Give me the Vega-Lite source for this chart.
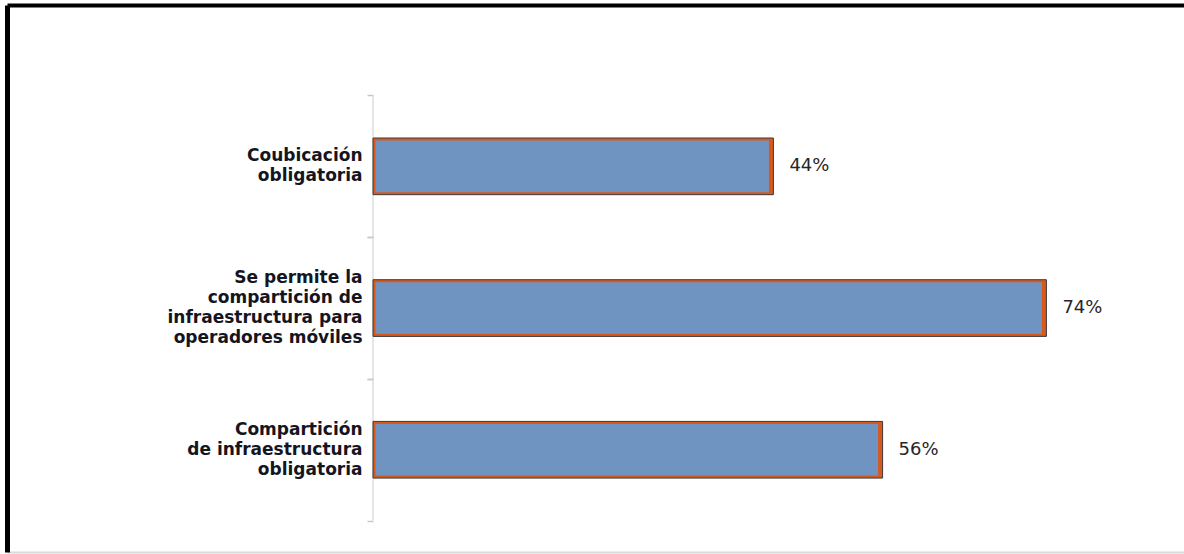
{
  "$schema": "https://vega.github.io/schema/vega-lite/v6.json",
  "width": 1177,
  "height": 547,
  "autosize": {"type": "none"},
  "padding": {"left": 7, "top": 5, "right": 0, "bottom": 2},
  "background": "white",
  "config": {"view": {"stroke": null}},
  "data": {
    "values": [
      {"cat": "Coubicación\nobligatoria", "value": 0.44},
      {"cat": "Se permite la\ncompartición de\ninfraestructura para\noperadores móviles", "value": 0.74},
      {"cat": "Compartición\nde infraestructura\nobligatoria", "value": 0.56}
    ]
  },
  "resolve": {"axis": {"x": "independent", "y": "independent"}},
  "layer": [
    {
      "mark": {"type": "tick", "orient": "vertical", "size": 141.7, "thickness": 1.5, "color": "#D0D0D0"},
      "encoding": {
        "x": {"datum": 0, "type": "quantitative", "axis": null},
        "y": {
          "field": "cat", "type": "nominal", "sort": null,
          "axis": {"orient": "left", "offset": -366, "title": null, "domain": false, "labels": false, "grid": false,
                   "ticks": true, "tickOffset": 70.85, "tickColor": "#C8C8C8", "tickSize": 6, "tickWidth": 1.5}
        }
      }
    },
    {
      "mark": {"type": "bar", "fill": "#D9581C", "stroke": "#3A3A3A", "strokeWidth": 1},
      "encoding": {
        "y": {
          "field": "cat", "type": "nominal", "sort": null,
          "scale": {"paddingInner": 0.6, "paddingOuter": 0.7301, "align": 0.6428, "round": false},
          "axis": {"orient": "left", "title": null, "labels": false, "ticks": false, "domain": true, "domainColor": "#000000", "domainWidth": 5, "grid": false}
        },
        "x": {
          "field": "value", "type": "quantitative",
          "scale": {"domain": [-0.4022, 0.8912], "nice": false, "zero": false},
          "axis": {"orient": "top", "title": null, "labels": false, "ticks": false, "grid": false, "domain": true, "domainColor": "#000000", "domainWidth": 4}
        },
        "x2": {"datum": 0}
      }
    },
    {
      "mark": {"type": "bar", "fill": "#7094C2", "stroke": null, "height": {"band": 0.91}, "xOffset": -4.5, "x2Offset": 2.5},
      "encoding": {
        "y": {
          "field": "cat", "type": "nominal", "sort": null,
          "axis": {
            "orient": "left", "offset": -366, "title": null, "domain": false, "ticks": false,
            "labelPadding": 11, "labelFont": "DejaVu Sans", "labelFontWeight": "bold", "labelFontSize": 17,
            "labelColor": "#15151f", "labelLineHeight": 20, "labelAlign": "right", "labelBaseline": "middle",
            "labelExpr": "split(datum.label, '\\n')", "grid": false, "labelLimit": 400,
            "labelOffset": {
              "condition": [
                {"test": "length(split(datum.value, '\\n')) == 4", "value": -30},
                {"test": "length(split(datum.value, '\\n')) == 3", "value": -20}
              ],
              "value": -10
            }
          }
        },
        "x": {
          "field": "value", "type": "quantitative",
          "axis": {"orient": "bottom", "title": null, "labels": false, "ticks": false, "grid": false, "domain": true, "domainColor": "#D9D9D9", "domainWidth": 2}
        },
        "x2": {"datum": 0}
      }
    },
    {
      "mark": {"type": "text", "align": "left", "baseline": "middle", "dx": 16, "font": "DejaVu Sans", "fontSize": 18, "color": "#262626"},
      "encoding": {
        "y": {
          "field": "cat", "type": "nominal", "sort": null,
          "axis": {"orient": "left", "offset": -366, "title": null, "domain": false, "labels": false, "grid": false,
                   "ticks": true, "tickOffset": -70.85, "tickColor": "#C8C8C8", "tickSize": 6, "tickWidth": 1.5}
        },
        "x": {"field": "value", "type": "quantitative", "axis": null},
        "text": {"field": "value", "type": "quantitative", "format": ".0%"}
      }
    }
  ]
}
